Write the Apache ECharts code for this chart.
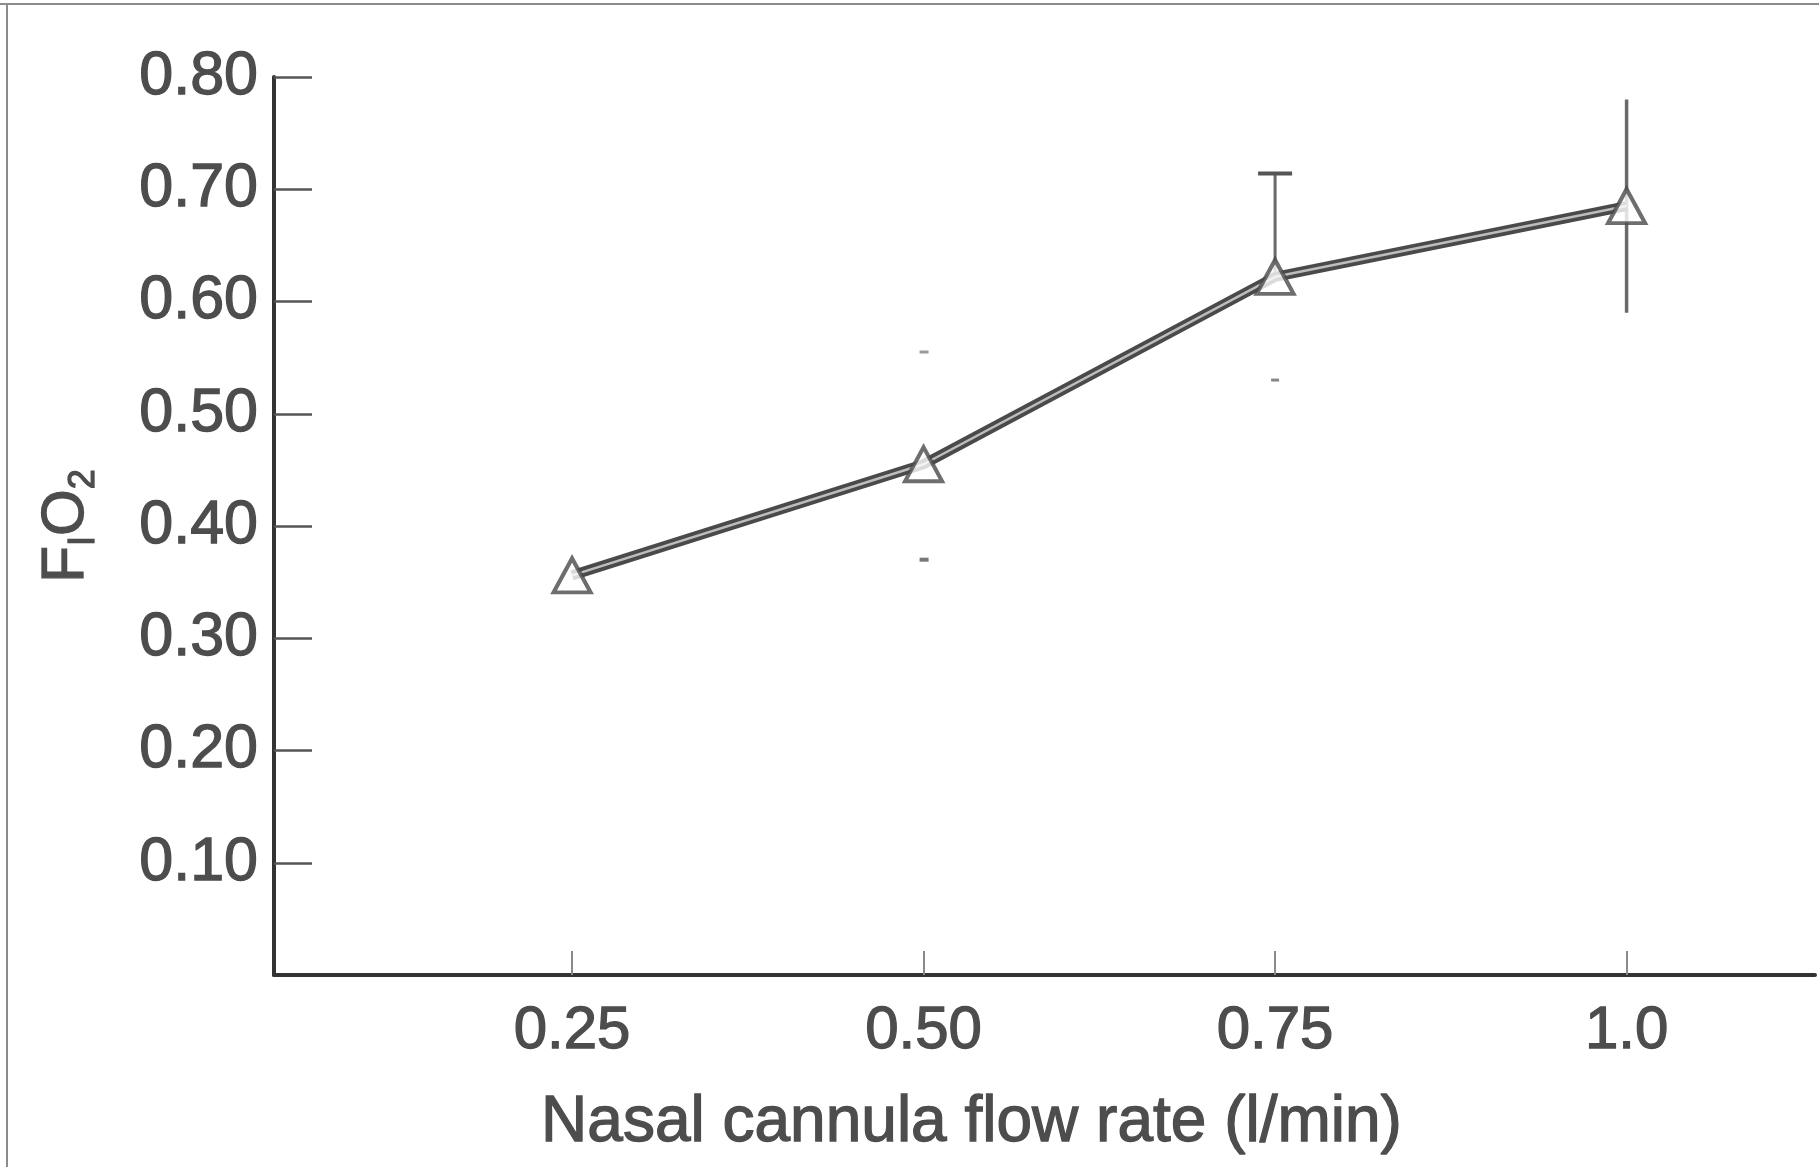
<!DOCTYPE html>
<html>
<head>
<meta charset="utf-8">
<title>FiO2 vs nasal cannula flow rate</title>
<script src="https://cdn.jsdelivr.net/npm/echarts@6/dist/echarts.min.js"></script>
<style>
  html, body { margin: 0; padding: 0; background: #fff; }
  #chart { width: 1819px; height: 1167px; }
</style>
</head>
<body>
<div id="chart"></div>
<script>
// values
const flowRate = [0.25, 0.5, 0.75, 1.0];
const fio2 = [0.356, 0.455, 0.622, 0.685];

// error bars (0.50 only survives as faint end marks in the scan)
const errFlow = [0.5, 0.75, 1.0];
const errMean = [0.455, 0.622, 0.685];
const errLow = [0.37, 0.53, 0.59];
const errHigh = [0.555, 0.714, 0.78];

const xTicks = [0.25, 0.5, 0.75, 1.0];
const xTickLabels = ["0.25", "0.50", "0.75", "1.0"];
const yTicks = [0.1, 0.2, 0.3, 0.4, 0.5, 0.6, 0.7, 0.8];

const ink = "#4d4d4d";
const font = "Liberation Sans";
// scan makes the type look heavier, fake it with a thin stroke
const heavy = { textBorderColor: ink, textBorderWidth: 1.3 };

const chart = echarts.init(document.getElementById("chart"));

const points = flowRate.map((x, i) => [x, fio2[i]]);
const errData = errFlow.map((x, i) => [x, errMean[i], errLow[i], errHigh[i]]);

const seg = (a, b, stroke, lineWidth) => ({
  type: "line",
  shape: { x1: a[0], y1: a[1], x2: b[0], y2: b[1] },
  style: { stroke, lineWidth },
});

const option = {
  animation: false,
  backgroundColor: "#fff",
  grid: { left: 274, right: 4, top: 77, bottom: 192 },
  xAxis: {
    type: "value",
    min: 0.038,
    max: 1.134,
    splitLine: { show: false },
    axisLine: { lineStyle: { color: "#333", width: 4 } },
    axisTick: {
      customValues: xTicks,
      inside: true,
      length: 24,
      lineStyle: { color: "#8a8a8a", width: 2 },
    },
    axisLabel: {
      customValues: xTicks,
      margin: 26,
      color: ink,
      fontFamily: font,
      fontSize: 60,
      ...heavy,
      formatter: v => xTickLabels[xTicks.indexOf(v)] || "",
    },
    name: "Nasal cannula flow rate (l/min)",
    nameLocation: "middle",
    nameGap: 116,
    nameTextStyle: {
      color: ink,
      fontFamily: font,
      fontSize: 64,
      ...heavy,
      padding: [0, 146, 0, 0],
    },
  },
  yAxis: {
    type: "value",
    min: 0,
    max: 0.8,
    splitLine: { show: false },
    axisLine: { lineStyle: { color: "#333", width: 4 } },
    axisTick: {
      customValues: yTicks,
      inside: true,
      length: 38,
      lineStyle: { color: "#555", width: 2.5 },
    },
    axisLabel: {
      customValues: yTicks,
      margin: 16,
      color: ink,
      fontFamily: font,
      fontSize: 61,
      ...heavy,
      formatter: v => v.toFixed(2),
    },
    name: "{m|F}{s|I}{m|O}{s|2}",
    nameLocation: "middle",
    nameRotate: 90,
    nameGap: 172,
    nameTextStyle: {
      rich: {
        m: { fontSize: 60, fontFamily: font, color: ink, ...heavy, lineHeight: 72, verticalAlign: "middle" },
        s: { fontSize: 36, fontFamily: font, color: ink, ...heavy, lineHeight: 36, verticalAlign: "bottom" },
      },
    },
  },
  graphic: [
    // scan border
    { type: "line", shape: { x1: 0, y1: 4, x2: 1819, y2: 4 }, style: { stroke: "#8c8c8c", lineWidth: 2 } },
    { type: "line", shape: { x1: 7, y1: 4, x2: 7, y2: 1167 }, style: { stroke: "#8c8c8c", lineWidth: 2 } },
  ],
  series: [
    {
      type: "custom",
      name: "error",
      data: errData,
      z: 2,
      renderItem: (params, api) => {
        const x = api.value(0);
        const mid = api.coord([x, api.value(1)]);
        const lo = api.coord([x, api.value(2)]);
        const hi = api.coord([x, api.value(3)]);
        const i = params.dataIndex;
        let children;
        if (i === 0) {
          // only tiny remnants of the bar ends
          children = [
            seg([lo[0] - 4, lo[1]], [lo[0] + 5, lo[1]], "#777", 4),
            seg([hi[0] - 4, hi[1]], [hi[0] + 5, hi[1]], "#999", 3),
          ];
        } else if (i === 1) {
          children = [
            seg(mid, hi, "#6a6a6a", 3),
            seg([hi[0] - 17, hi[1]], [hi[0] + 17, hi[1]], "#555", 4),
            seg([lo[0] - 4, lo[1]], [lo[0] + 4, lo[1]], "#888", 3),
          ];
        } else {
          children = [seg(lo, hi, "#6a6a6a", 3.5)];
        }
        return { type: "group", children };
      },
    },
    {
      type: "line",
      data: points,
      symbol: "none",
      z: 3,
      lineStyle: { color: "#4a4a4a", width: 10 },
    },
    {
      type: "line",
      data: points,
      symbol: "none",
      z: 4,
      lineStyle: { color: "#bdbdbd", width: 2.5 },
    },
    {
      type: "scatter",
      data: points,
      symbol: "triangle",
      symbolSize: [37, 34],
      z: 5,
      itemStyle: { color: "#fff", borderColor: "#4a4a4a", borderWidth: 4 },
    },
  ],
};

chart.setOption(option);
</script>
</body>
</html>
